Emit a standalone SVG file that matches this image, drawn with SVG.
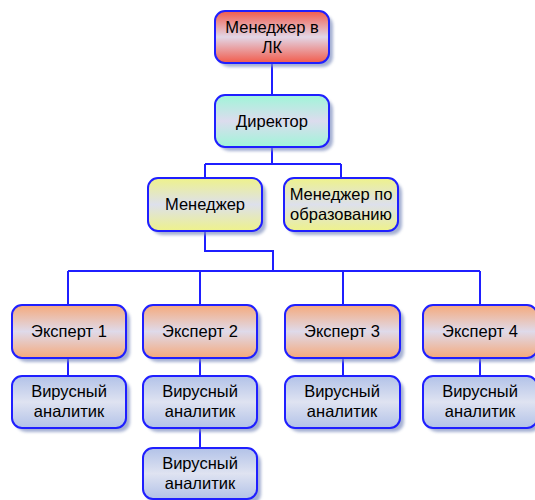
<svg xmlns="http://www.w3.org/2000/svg" width="535" height="500" viewBox="0 0 535 500">
<defs>
<linearGradient id="gRed" x1="0" y1="0" x2="0" y2="1"><stop offset="0" stop-color="#f25b4b"/><stop offset="0.5" stop-color="#e2d6e6"/><stop offset="1" stop-color="#f25b4b"/></linearGradient>
<linearGradient id="gAqua" x1="0" y1="0" x2="0" y2="1"><stop offset="0" stop-color="#9ff5d8"/><stop offset="0.5" stop-color="#dcdcee"/><stop offset="1" stop-color="#9ff5d8"/></linearGradient>
<linearGradient id="gYel" x1="0" y1="0" x2="0" y2="1"><stop offset="0" stop-color="#eef28a"/><stop offset="0.5" stop-color="#dde0ec"/><stop offset="1" stop-color="#eef28a"/></linearGradient>
<linearGradient id="gOr" x1="0" y1="0" x2="0" y2="1"><stop offset="0" stop-color="#f5a97b"/><stop offset="0.5" stop-color="#dfdaea"/><stop offset="1" stop-color="#f5a97b"/></linearGradient>
<linearGradient id="gBlue" x1="0" y1="0" x2="0" y2="1"><stop offset="0" stop-color="#b2c2e8"/><stop offset="0.5" stop-color="#dfe3f1"/><stop offset="1" stop-color="#b2c2e8"/></linearGradient>
<filter id="sh" x="-20%" y="-20%" width="140%" height="140%"><feGaussianBlur stdDeviation="1.5"/></filter>
<style>
.b{stroke:#1f1fff;stroke-width:2}
.s{fill:#7f8fbf;opacity:0.7;filter:url(#sh)}
.t{font-family:"Liberation Sans",Arial,sans-serif;font-size:16.5px;fill:#000;text-anchor:middle}
.c{fill:none;stroke:#1f1fff;stroke-width:2}
</style>
</defs>
<g id="connectors">
<path class="c" d="M272 63V95M272 147V164M205 164H341M205 164V178M341 164V178M205 231V251H273V271M68 271H480M68 271V305M200 271V305M343 271V305M480 271V305M68 358V376M200 358V376M343 358V376M480 358V376M200 428V448"/>
</g>
<g id="n_lk"><rect class="s" x="219" y="15" width="114" height="52" rx="10"/><rect class="b" x="215" y="11" width="114" height="52" rx="10" fill="url(#gRed)"/><text class="t" x="272" y="33">Менеджер в</text><text class="t" x="272" y="53">ЛК</text></g>
<g id="n_dir"><rect class="s" x="219" y="99" width="114" height="52" rx="10"/><rect class="b" x="215" y="95" width="114" height="52" rx="10" fill="url(#gAqua)"/><text class="t" x="272" y="127">Директор</text></g>
<g id="n_man"><rect class="s" x="152" y="182" width="114" height="53" rx="10"/><rect class="b" x="148" y="178" width="114" height="53" rx="10" fill="url(#gYel)"/><text class="t" x="205" y="210">Менеджер</text></g>
<g id="n_edu"><rect class="s" x="288" y="182" width="114" height="53" rx="10"/><rect class="b" x="284" y="178" width="114" height="53" rx="10" fill="url(#gYel)"/><text class="t" x="341" y="200">Менеджер по</text><text class="t" x="341" y="220">образованию</text></g>
<g id="n_e1"><rect class="s" x="16" y="309" width="114" height="53" rx="10"/><rect class="b" x="12" y="305" width="114" height="53" rx="10" fill="url(#gOr)"/><text class="t" x="69" y="337">Эксперт 1</text></g>
<g id="n_e2"><rect class="s" x="147" y="309" width="114" height="53" rx="10"/><rect class="b" x="143" y="305" width="114" height="53" rx="10" fill="url(#gOr)"/><text class="t" x="200" y="337">Эксперт 2</text></g>
<g id="n_e3"><rect class="s" x="289" y="309" width="115" height="53" rx="10"/><rect class="b" x="285" y="305" width="115" height="53" rx="10" fill="url(#gOr)"/><text class="t" x="342" y="337">Эксперт 3</text></g>
<g id="n_e4"><rect class="s" x="427" y="309" width="114" height="53" rx="10"/><rect class="b" x="423" y="305" width="114" height="53" rx="10" fill="url(#gOr)"/><text class="t" x="480" y="337">Эксперт 4</text></g>
<g id="n_a1"><rect class="s" x="16" y="380" width="114" height="52" rx="10"/><rect class="b" x="12" y="376" width="114" height="52" rx="10" fill="url(#gBlue)"/><text class="t" x="69" y="397">Вирусный</text><text class="t" x="69" y="417">аналитик</text></g>
<g id="n_a2"><rect class="s" x="147" y="380" width="114" height="52" rx="10"/><rect class="b" x="143" y="376" width="114" height="52" rx="10" fill="url(#gBlue)"/><text class="t" x="200" y="397">Вирусный</text><text class="t" x="200" y="417">аналитик</text></g>
<g id="n_a2b"><rect class="s" x="147" y="452" width="114" height="52" rx="10"/><rect class="b" x="143" y="448" width="114" height="51" rx="10" fill="url(#gBlue)"/><text class="t" x="200" y="469">Вирусный</text><text class="t" x="200" y="489">аналитик</text></g>
<g id="n_a3"><rect class="s" x="289" y="380" width="115" height="52" rx="10"/><rect class="b" x="285" y="376" width="115" height="52" rx="10" fill="url(#gBlue)"/><text class="t" x="342" y="397">Вирусный</text><text class="t" x="342" y="417">аналитик</text></g>
<g id="n_a4"><rect class="s" x="427" y="380" width="114" height="52" rx="10"/><rect class="b" x="423" y="376" width="114" height="52" rx="10" fill="url(#gBlue)"/><text class="t" x="480" y="397">Вирусный</text><text class="t" x="480" y="417">аналитик</text></g>
</svg>
